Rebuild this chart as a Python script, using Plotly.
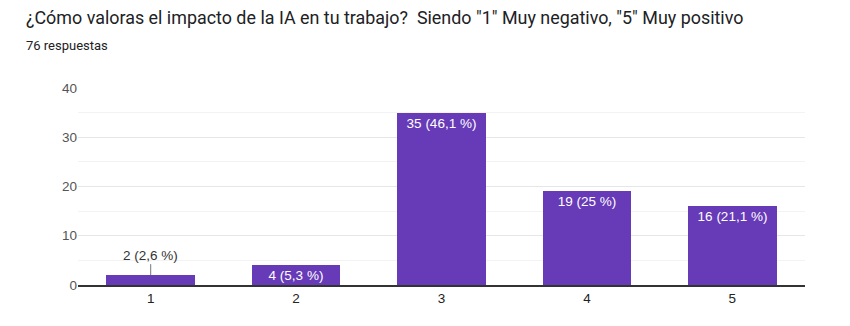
import plotly.graph_objects as go

categories = ["1", "2", "3", "4", "5"]
counts = [2, 4, 35, 19, 16]
percent_labels = ["2,6", "5,3", "46,1", "25", "21,1"]
y_ticks = [0, 10, 20, 30, 40]

title = '¿Cómo valoras el impacto de la IA en tu trabajo?  Siendo "1" Muy negativo, "5" Muy positivo'
subtitle = "76 respuestas"

purple = "#673ab7"
FONT = "Roboto, Arial, sans-serif"
CFONT = "Liberation Sans, Arial, sans-serif"
labels = [f"{c} ({p} %)" for c, p in zip(counts, percent_labels)]
inside = [c >= 3 for c in counts]

fig = go.Figure()
fig.add_trace(go.Bar(
    x=categories, y=counts,
    marker=dict(color=purple, line=dict(width=0)),
    width=0.61,
    text=[l if ins else "" for l, ins in zip(labels, inside)],
    textposition="inside", insidetextanchor="end",
    textfont=dict(family=CFONT, size=13.5, color="white"),
    constraintext="none",
    hoverinfo="skip",
))

annotations = []
for i, (c, l, ins) in enumerate(zip(counts, labels, inside)):
    if not ins:
        annotations.append(dict(
            x=i, y=c, xref="x", yref="y", text=l, showarrow=True, arrowhead=0,
            arrowwidth=1, arrowcolor="#777777", ax=0, ay=-20, standoff=0,
            font=dict(family=CFONT, size=13.5, color="#333333"),
        ))

annotations += [
    dict(text=title, xref="paper", yref="paper", x=-0.0743, y=1.36,
         xanchor="left", yanchor="middle", showarrow=False,
         font=dict(family=FONT, size=17.9, color="#202124")),
    dict(text=subtitle, xref="paper", yref="paper", x=-0.0743, y=1.215,
         xanchor="left", yanchor="middle", showarrow=False,
         font=dict(family=FONT, size=13, color="#202124")),
]

fig.update_layout(
    width=850, height=326,
    margin=dict(l=78, r=45, t=88, b=41),
    paper_bgcolor="white", plot_bgcolor="white",
    showlegend=False, bargap=0,
    font=dict(family=CFONT, color="#444444"),
    annotations=annotations,
)

fig.update_xaxes(showgrid=False, showline=True, linecolor="#333333", linewidth=1.5,
                 ticks="", tickfont=dict(family=CFONT, size=13.5, color="#222222"))
fig.update_yaxes(range=[0, 40], tickvals=y_ticks, showgrid=True, gridcolor="#e6e6e6",
                 gridwidth=1, zeroline=False,
                 tickfont=dict(family=CFONT, size=13.5, color="#555555"),
                 ticks="", minor=dict(dtick=5, showgrid=True, gridcolor="#f3f3f3"))

fig.write_html("out.html")
